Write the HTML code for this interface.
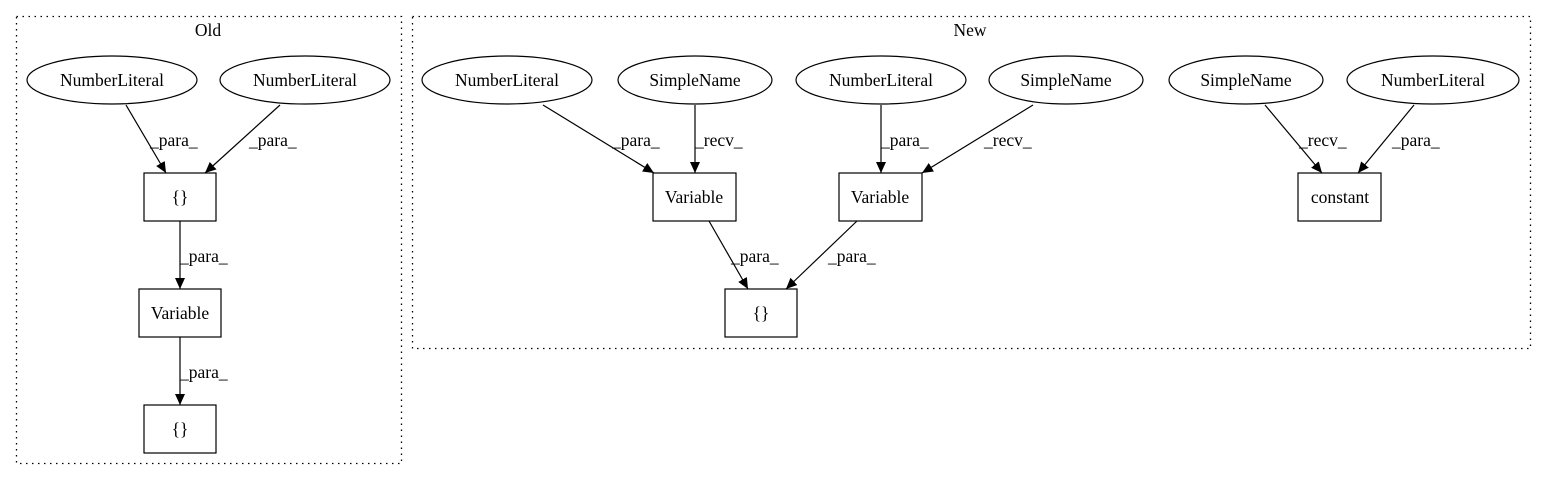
<!DOCTYPE html>
<html><head><meta charset="utf-8"><style>html,body{margin:0;padding:0;background:#fff}svg{display:block}</style></head>
<body>
<svg width="1545" height="480" viewBox="0 0 1545 480" xmlns="http://www.w3.org/2000/svg" font-family="'Liberation Serif', serif" font-size="17.5">
<defs><marker id="a" markerWidth="11" markerHeight="10" refX="11" refY="5" orient="auto" markerUnits="userSpaceOnUse"><path d="M0,0 L11,5 L0,10 Z" fill="#000"/></marker></defs>
<g fill="none" stroke="#000" stroke-dasharray="1.5,4.5" stroke-width="1.3">
<rect x="16.5" y="16.5" width="385" height="447"/>
<rect x="412.5" y="16.5" width="1118" height="332"/>
</g>
<g text-anchor="middle" fill="#000">
<text x="208" y="36">Old</text>
<text x="970" y="36">New</text>
</g>
<g fill="none" stroke="#000" stroke-width="1.2">
<ellipse cx="112" cy="80" rx="85" ry="24"/>
<ellipse cx="305" cy="80" rx="85" ry="24"/>
<rect x="144" y="173" width="72" height="48"/>
<rect x="139" y="289" width="82" height="48"/>
<rect x="144" y="405" width="72" height="48"/>
<ellipse cx="507" cy="80" rx="85" ry="24"/>
<ellipse cx="695" cy="80" rx="77" ry="24"/>
<ellipse cx="881" cy="80" rx="85" ry="24"/>
<ellipse cx="1066" cy="80" rx="77" ry="24"/>
<ellipse cx="1246" cy="80" rx="77" ry="24"/>
<ellipse cx="1433" cy="80" rx="86" ry="24"/>
<rect x="653" y="173" width="83" height="48"/>
<rect x="839" y="173" width="83" height="48"/>
<rect x="725" y="289" width="72" height="48"/>
<rect x="1298" y="173" width="83" height="48"/>
</g>
<g stroke="#000" stroke-width="1.2" marker-end="url(#a)">
<line x1="126" y1="105" x2="166" y2="173"/>
<line x1="280" y1="105" x2="205" y2="173"/>
<line x1="180" y1="221" x2="180" y2="289"/>
<line x1="180" y1="337" x2="180" y2="405"/>
<line x1="543" y1="105" x2="654" y2="173"/>
<line x1="695" y1="105" x2="695" y2="173"/>
<line x1="881" y1="105" x2="881" y2="173"/>
<line x1="1033" y1="105" x2="922" y2="173"/>
<line x1="709" y1="221" x2="748" y2="289"/>
<line x1="857" y1="221" x2="786" y2="289"/>
<line x1="1265" y1="105" x2="1322" y2="173"/>
<line x1="1414" y1="105" x2="1358" y2="173"/>
</g>
<g text-anchor="middle" fill="#000">
<text x="112" y="86">NumberLiteral</text>
<text x="305" y="86">NumberLiteral</text>
<text x="180" y="203">{}</text>
<text x="180" y="319">Variable</text>
<text x="180" y="435">{}</text>
<text x="507" y="86">NumberLiteral</text>
<text x="695" y="86">SimpleName</text>
<text x="881" y="86">NumberLiteral</text>
<text x="1066" y="86">SimpleName</text>
<text x="1246" y="86">SimpleName</text>
<text x="1433" y="86">NumberLiteral</text>
<text x="694" y="203">Variable</text>
<text x="880" y="203">Variable</text>
<text x="761" y="319">{}</text>
<text x="1340" y="203">constant</text>
</g>
<g fill="#000">
<text x="150" y="146">_para_</text>
<text x="249" y="146">_para_</text>
<text x="180" y="262">_para_</text>
<text x="180" y="378">_para_</text>
<text x="612" y="146">_para_</text>
<text x="695" y="146">_recv_</text>
<text x="881" y="146">_para_</text>
<text x="984" y="146">_recv_</text>
<text x="731" y="262">_para_</text>
<text x="828" y="262">_para_</text>
<text x="1299" y="146">_recv_</text>
<text x="1392" y="146">_para_</text>
</g>
</svg>
</body></html>
